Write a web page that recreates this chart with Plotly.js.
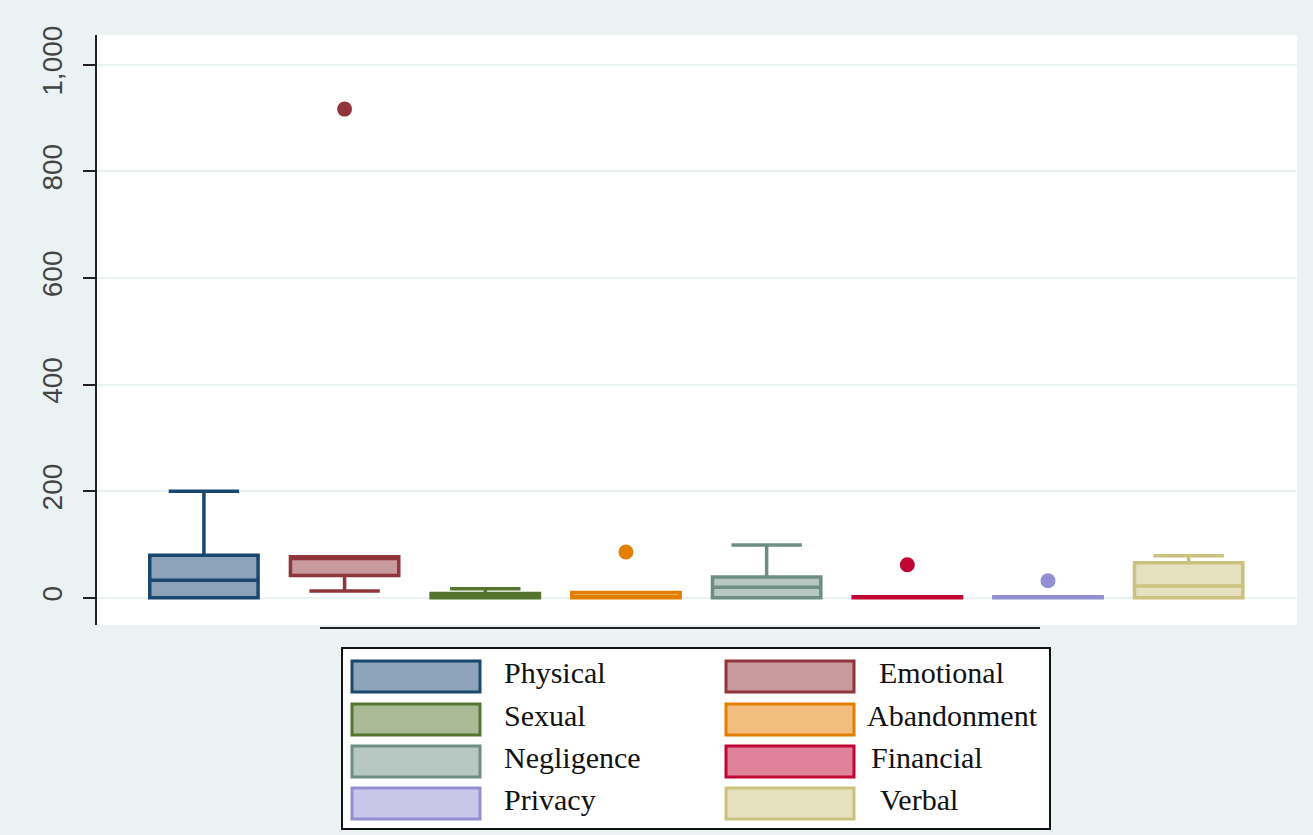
<!DOCTYPE html>
<html>
<head>
<meta charset="utf-8">
<script src="https://cdn.plot.ly/plotly-3.0.1.min.js"></script>
<style>
  html, body { margin: 0; padding: 0; background: #eaf2f3; }
  #chart { width: 1313px; height: 835px; }
</style>
</head>
<body>
<div id="chart"></div>
<script>
// ---- data ----
const categories = ['Physical', 'Emotional', 'Sexual', 'Abandonment', 'Negligence', 'Financial', 'Privacy', 'Verbal'];
const q1Values     = [0, 42, 0, 0, 0, 0, 0, 0];
const medianValues = [33, 74, 0, 0, 20, 0, 0, 22];
const q3Values     = [80, 77, 8, 10, 39, 2, 2, 66];
const lowerWhisker = [0, 13, 0, 0, 0, 0, 0, 0];
const upperWhisker = [200, 77, 17, 10, 99, 2, 2, 79];
const outlierCategories = ['Emotional', 'Abandonment', 'Financial', 'Privacy'];
const outlierValues     = [917, 86, 62, 32];
const yTickValues = [0, 200, 400, 600, 800, 1000];

// ---- styles ----
const lineColors = ['#1a476f', '#90353b', '#55752f', '#e37e00', '#6e8e84', '#c10534', '#938dd2', '#cac27e'];
const fillColors = ['#8ca3b9', '#c8999d', '#aaba97', '#f1be80', '#b7c7c2', '#e0829a', '#c9c6e9', '#e5e1bf'];

const traces = categories.map((c, i) => ({
  type: 'box',
  name: c,
  x: [c],
  q1: [q1Values[i]],
  median: [medianValues[i]],
  q3: [q3Values[i]],
  lowerfence: [lowerWhisker[i]],
  upperfence: [upperWhisker[i]],
  width: 0.77,
  whiskerwidth: 0.65,
  fillcolor: fillColors[i],
  line: { color: lineColors[i], width: 3.5 },
  boxpoints: false,
  showlegend: false,
  hoverinfo: 'skip'
}));

traces.push({
  type: 'scatter',
  mode: 'markers',
  x: outlierCategories,
  y: outlierValues,
  marker: {
    size: 15,
    color: outlierCategories.map(c => lineColors[categories.indexOf(c)])
  },
  showlegend: false,
  hoverinfo: 'skip'
});

// ---- layout geometry (pixels) ----
const W = 1313, H = 835;
const mL = 97, mR = 16, mT = 35, mB = 210;
const pw = W - mL - mR, ph = H - mT - mB;
const px = x => (x - mL) / pw;
const py = y => (H - mB - y) / ph;

const shapes = [];
const annotations = [];

// legend frame
shapes.push({ type: 'rect', xref: 'paper', yref: 'paper', x0: px(342), x1: px(1050), y0: py(829), y1: py(648),
  fillcolor: '#ffffff', line: { color: '#111', width: 2 }, layer: 'above' });
// separator line under plot
shapes.push({ type: 'line', xref: 'paper', yref: 'paper', x0: px(320), x1: px(1040), y0: py(628), y1: py(628),
  line: { color: '#222', width: 2 } });

const rowY = [676, 719, 761, 803];
const colSwatchX = [352, 726];
const colTextX = [502, 0];
const col2TextCenter = [941, 952, 927, 919];
categories.forEach((c, i) => {
  const col = i % 2, row = Math.floor(i / 2);
  const cy = rowY[row];
  shapes.push({ type: 'rect', xref: 'paper', yref: 'paper',
    x0: px(colSwatchX[col]), x1: px(colSwatchX[col] + 128), y0: py(cy + 16), y1: py(cy - 15),
    fillcolor: fillColors[i], line: { color: lineColors[i], width: 3 }, layer: 'above' });
  const a = {
    xref: 'paper', yref: 'paper', y: py(cy - 4), text: c, showarrow: false,
    font: { family: 'Liberation Serif, Times New Roman, serif', size: 30, color: '#111' },
    yanchor: 'middle'
  };
  if (col === 0) { a.x = px(colTextX[0]); a.xanchor = 'left'; }
  else { a.x = px(col2TextCenter[row]); a.xanchor = 'center'; }
  annotations.push(a);
});

const layout = {
  width: W, height: H,
  margin: { l: mL, r: mR, t: mT, b: mB, pad: 0 },
  paper_bgcolor: '#eaf2f3',
  plot_bgcolor: '#ffffff',
  showlegend: false,
  boxmode: 'overlay',
  xaxis: {
    type: 'category',
    categoryorder: 'array',
    categoryarray: categories,
    range: [-0.76, 7.77],
    showticklabels: false, showgrid: false, zeroline: false, showline: false, ticks: ''
  },
  yaxis: {
    range: [-51, 1056],
    tickvals: yTickValues,
    tickformat: ',',
    tickangle: -90,
    ticks: 'outside', ticklen: 12, tickwidth: 2, tickcolor: '#222',
    ticklabelstandoff: 10,
    showline: true, linecolor: '#222', linewidth: 2,
    showgrid: true, gridcolor: '#eaf2f3', gridwidth: 2,
    zeroline: false,
    tickfont: { family: 'Liberation Sans, Arial, sans-serif', size: 28, color: '#444' }
  },
  shapes: shapes,
  annotations: annotations
};

Plotly.newPlot('chart', traces, layout, { displayModeBar: false, staticPlot: true });
</script>
</body>
</html>
